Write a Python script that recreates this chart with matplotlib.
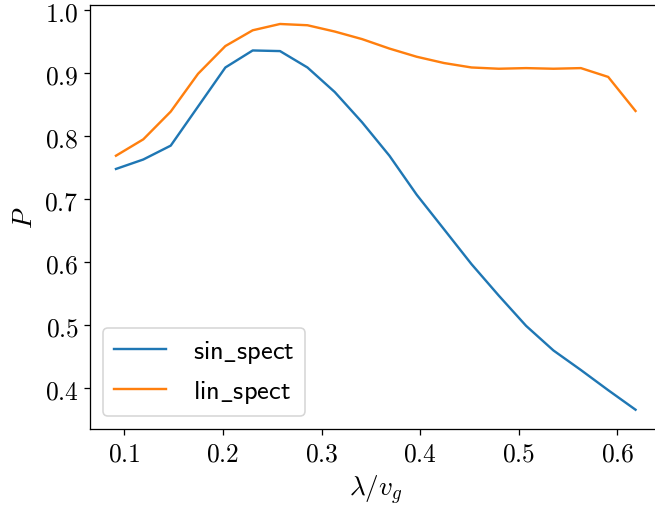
import matplotlib
matplotlib.use("Agg")
import matplotlib.pyplot as plt
from matplotlib.ticker import FuncFormatter, MultipleLocator

plt.rcParams['mathtext.fontset'] = 'cm'
plt.rcParams['font.family'] = ['DejaVu Sans']

x_vals = [0.0916, 0.1193, 0.1471, 0.1748, 0.2025, 0.2302, 0.2579, 0.2857,
          0.3134, 0.3411, 0.3688, 0.3965, 0.4243, 0.4520, 0.4797, 0.5074,
          0.5351, 0.5629, 0.5906, 0.6183]
sin_spect = [0.748, 0.763, 0.785, 0.847, 0.909, 0.936, 0.935, 0.909,
             0.870, 0.822, 0.769, 0.707, 0.652, 0.597, 0.547, 0.499,
             0.460, 0.429, 0.397, 0.366]
lin_spect = [0.769, 0.795, 0.839, 0.899, 0.943, 0.968, 0.978, 0.976,
             0.966, 0.954, 0.939, 0.926, 0.916, 0.909, 0.907, 0.908,
             0.907, 0.908, 0.894, 0.840]
labels = [r'$\mathsf{sin\_spect}$', r'$\mathsf{lin\_spect}$']

dpi = 115
fig = plt.figure(figsize=(655 / dpi, 511 / dpi), dpi=dpi)
ax = fig.add_axes([90 / 655, 1 - 430 / 511, 571.5 / 655, 424.3 / 511])

ax.plot(x_vals, sin_spect, color='#1f77b4', label=labels[0])
ax.plot(x_vals, lin_spect, color='#ff7f0e', label=labels[1])

ax.xaxis.set_major_locator(MultipleLocator(0.1))
ax.yaxis.set_major_locator(MultipleLocator(0.1))
fmt = FuncFormatter(lambda v, p: f'${v:.1f}$')
ax.xaxis.set_major_formatter(fmt)
ax.yaxis.set_major_formatter(fmt)
ax.tick_params(labelsize=16)

ax.set_xlabel(r'$\lambda/v_g$', fontsize=17)
ax.set_ylabel(r'$P$', fontsize=17)

ax.legend(loc='lower left', fontsize=16.5, handletextpad=1.0)

fig.savefig('out.png', dpi=dpi)
